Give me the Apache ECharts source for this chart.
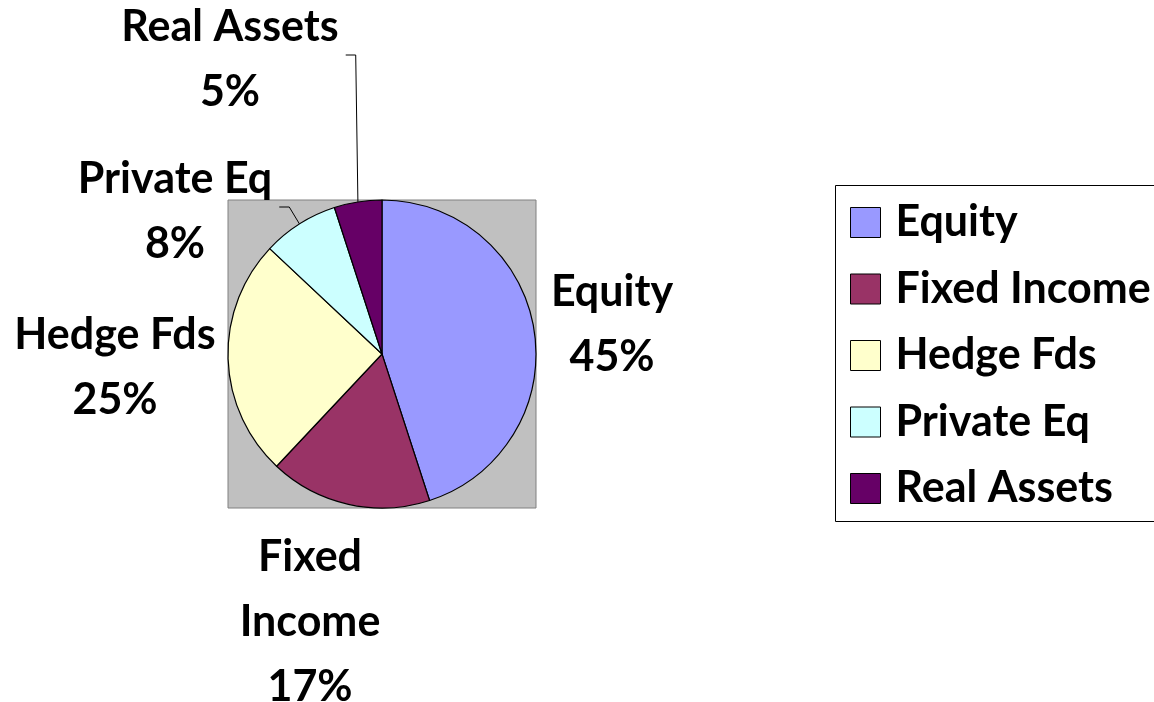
<!DOCTYPE html>
<html>
<head>
<meta charset="utf-8">
<script src="https://cdn.jsdelivr.net/npm/echarts@6/dist/echarts.min.js"></script>
<style>
  html, body { margin: 0; padding: 0; background: #fff; overflow: hidden; }
  #chart { width: 1154px; height: 702px; }
</style>
</head>
<body>
<div id="chart"></div>
<script>
// data
const categories = ['Equity', 'Fixed Income', 'Hedge Fds', 'Private Eq', 'Real Assets']
const shares = [45, 17, 25, 8, 5]
const colors = ['#9999FF', '#993366', '#FFFFCC', '#CCFFFF', '#660066']
// label text as shown (Fixed Income wraps)
const labelNames = ['Equity', 'Fixed\nIncome', 'Hedge Fds', 'Private Eq', 'Real Assets']

const FONT = 'Lato, "Open Sans", sans-serif'
const center = [382, 354]
const radius = 154

// where each label block sits (centre of text block)
const labelPos = {
  'Equity': [612, 325],
  'Fixed Income': [310, 622],
  'Hedge Fds': [115, 368],
  'Private Eq': [175, 212],
  'Real Assets': [230, 60]
}
const withLeader = ['Private Eq', 'Real Assets']

// legend frame (runs off the right edge like the original)
const legendBox = { x: 835, y: 185, w: 600, h: 336 }

const chart = echarts.init(document.getElementById('chart'))

const option = {
  backgroundColor: '#fff',
  animation: false,
  graphic: [
    {
      type: 'rect',
      z: -1,
      shape: {
        x: center[0] - radius,
        y: center[1] - radius,
        width: radius * 2,
        height: radius * 2
      },
      style: { fill: '#C0C0C0', stroke: '#808080', lineWidth: 1 }
    },
    {
      type: 'polyline',
      z: -1,
      shape: {
        points: [
          [legendBox.x + legendBox.w, legendBox.y + 0.5],
          [legendBox.x + 0.5, legendBox.y + 0.5],
          [legendBox.x + 0.5, legendBox.y + legendBox.h + 0.5],
          [legendBox.x + legendBox.w, legendBox.y + legendBox.h + 0.5]
        ]
      },
      style: { fill: null, stroke: '#000', lineWidth: 1 }
    }
  ],
  legend: {
    orient: 'vertical',
    left: legendBox.x,
    top: legendBox.y,
    padding: [16, 0, 8, 15],
    itemWidth: 30,
    itemHeight: 30,
    itemGap: 23.5,
    icon: 'rect',
    itemStyle: { borderColor: '#000', borderWidth: 1 },
    textStyle: {
      fontFamily: FONT,
      fontWeight: 'bold',
      fontSize: 43,
      color: '#000',
      padding: [0, 0, 0, 10]
    },
    data: categories
  },
  series: [
    {
      type: 'pie',
      center: center,
      radius: radius,
      startAngle: 90,
      clockwise: true,
      avoidLabelOverlap: false,
      itemStyle: { borderColor: '#000', borderWidth: 1.2 },
      label: {
        show: true,
        position: 'outside',
        fontFamily: FONT,
        fontWeight: 'bold',
        fontSize: 43,
        lineHeight: 65,
        color: '#000',
        align: 'center',
        formatter: (p) => labelNames[p.dataIndex] + '\n' + p.value + '%'
      },
      labelLine: {
        show: false,
        lineStyle: { color: '#000', width: 1 }
      },
      labelLayout: (params) => {
        const name = categories[params.dataIndex]
        const pos = labelPos[name]
        const out = { x: pos[0], y: pos[1], align: 'center', verticalAlign: 'middle' }
        if (withLeader.indexOf(name) >= 0 && params.labelLinePoints) {
          const p0 = params.labelLinePoints[0]
          const right = pos[0] + params.labelRect.width / 2
          const end = [right + 7, pos[1] - 5]
          out.labelLinePoints = [p0, [end[0] + 10, end[1]], end]
        }
        return out
      },
      data: categories.map((c, i) => ({
        name: c,
        value: shares[i],
        itemStyle: { color: colors[i] },
        labelLine: { show: withLeader.indexOf(c) >= 0 }
      }))
    }
  ]
}

chart.setOption(option)
</script>
</body>
</html>
